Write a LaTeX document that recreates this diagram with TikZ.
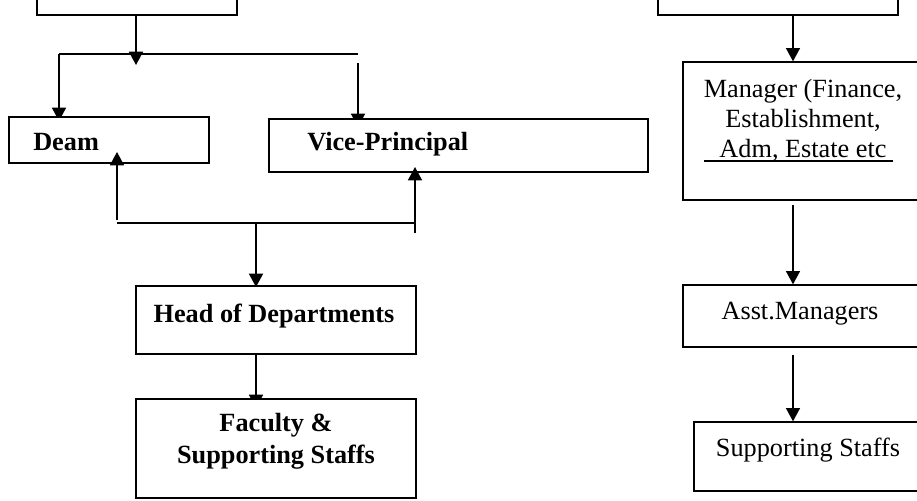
\documentclass[tikz,border=0pt]{standalone}
\usepackage{fontspec}
\setmainfont{Liberation Serif}
\usetikzlibrary{arrows.meta}
\tikzset{
  box/.style={draw, line width=1pt, fill=white, rectangle, inner sep=0pt},
  lbl/.style={inner sep=0pt, font=\fontsize{19.7}{22.5}\selectfont, align=center},
  blbl/.style={lbl, font=\fontsize{19.7}{24}\selectfont\bfseries},
  conn/.style={line width=1.2pt},
  arr/.style={conn, -{Triangle[width=10.5pt,length=10pt]}}
}
\begin{document}
\begin{tikzpicture}[x=0.75pt,y=-0.75pt]
\useasboundingbox (0,0) rectangle (917,500);
\clip (0,0) rectangle (917,500);
% arrows hidden partly under box tops
\coordinate (j1) at (59,54);
\coordinate (j2) at (358,54);
\coordinate (vpin) at (358,63);
\draw[conn] (j1) -- (j2);
\draw[arr] (j1) -- (59,121);
\draw[arr] (vpin) -- (358,127);
\draw[arr] (256,223) -- (256,287);
\draw[arr] (256,343) -- (256,408);
% boxes
\node[box, minimum width=150pt, minimum height=33.75pt] (tl) at (137,-7.5) {};
\node[box, minimum width=180pt, minimum height=33.75pt] (tr) at (778,-7.5) {};
\node[box, minimum width=150pt, minimum height=34.5pt] (deam) at (109,140) {};
\node[box, minimum width=284.25pt, minimum height=39.75pt] (vp) at (458.5,145.5) {};
\node[box, minimum width=210pt, minimum height=51pt] (head) at (276,320) {};
\node[box, minimum width=210pt, minimum height=74.25pt] (fac) at (276,448.5) {};
\node[box, minimum width=189pt, minimum height=103.5pt] (mgr) at (809,131) {};
\node[box, minimum width=189pt, minimum height=46.5pt] (asst) at (809,316) {};
\node[box, minimum width=180.75pt, minimum height=51.75pt] (supp) at (814.5,456.5) {};
% labels
\node[blbl, anchor=west] (tdeam) at (33,142) {Deam};
\node[blbl, anchor=west] (tvp) at (307,144) {Vice-Principal};
\node[blbl] (thead) at (274,316) {Head of Departments};
\node[blbl] (tfac) at (276,441) {Faculty \&\\Supporting Staffs};
\node[lbl] (tmgr) at (803,120) {Manager (Finance,\\Establishment,\\Adm, Estate etc};
\draw[line width=1pt] (704,161) -- (893,161);
\node[lbl] (tasst) at (800,314) {Asst.Managers};
\node[lbl] (tsupp) at (808,450) {Supporting Staffs};
% connectors
\draw[arr] (tl.south -| 136,0) -- (136,65);
\coordinate (b1) at (117,223);
\coordinate (b2) at (415,223);
\draw[conn] (b1) -- (b2);
\draw[arr] (117,220) -- (117,152);
\draw[arr] (415,233) -- (415,167);
\draw[arr] (tr.south -| 793,0) -- (mgr.north -| 793,0);
\draw[arr] (793,205) -- (asst.north -| 793,0);
\draw[arr] (793,355) -- (supp.north -| 793,0);
\end{tikzpicture}
\end{document}
